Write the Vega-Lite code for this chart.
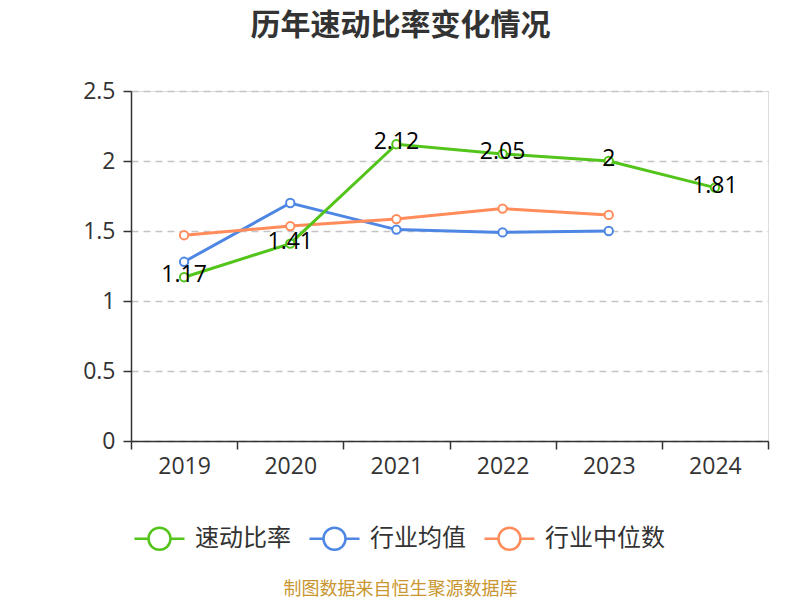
{
  "$schema": "https://vega.github.io/schema/vega-lite/v6.json",
  "width": 637,
  "height": 350,
  "autosize": {"type": "none"},
  "padding": {"left": 131, "top": 91, "right": 32, "bottom": 159},
  "background": "white",
  "title": {
    "text": "历年速动比率变化情况",
    "anchor": "middle",
    "dx": -49,
    "offset": 39,
    "fontSize": 30,
    "fontWeight": "bold",
    "color": "#333333",
    "font": "Noto Sans CJK SC"
  },
  "data": {
    "values": [
      {"year": "2019", "series": "速动比率", "value": 1.17},
      {"year": "2020", "series": "速动比率", "value": 1.41},
      {"year": "2021", "series": "速动比率", "value": 2.12},
      {"year": "2022", "series": "速动比率", "value": 2.05},
      {"year": "2023", "series": "速动比率", "value": 2.0},
      {"year": "2024", "series": "速动比率", "value": 1.81},
      {"year": "2019", "series": "行业均值", "value": 1.28},
      {"year": "2020", "series": "行业均值", "value": 1.70},
      {"year": "2021", "series": "行业均值", "value": 1.51},
      {"year": "2022", "series": "行业均值", "value": 1.49},
      {"year": "2023", "series": "行业均值", "value": 1.50},
      {"year": "2019", "series": "行业中位数", "value": 1.47},
      {"year": "2020", "series": "行业中位数", "value": 1.535},
      {"year": "2021", "series": "行业中位数", "value": 1.585},
      {"year": "2022", "series": "行业中位数", "value": 1.66},
      {"year": "2023", "series": "行业中位数", "value": 1.615}
    ]
  },
  "encoding": {
    "x": {
      "field": "year",
      "type": "ordinal",
      "bandPosition": 0.5,
      "scale": {"type": "band", "domain": ["2019", "2020", "2021", "2022", "2023", "2024"], "paddingInner": 0, "paddingOuter": 0},
      "axis": {
        "title": "制图数据来自恒生聚源数据库",
        "titleFont": "Noto Sans CJK SC",
        "titleFontSize": 18,
        "titleFontWeight": "normal",
        "titleColor": "#c9962f",
        "titleX": 269,
        "titleY": 148,
        "titleBaseline": "middle",
        "titleAlign": "center",
        "labelAngle": 0,
        "tickBand": "extent",
        "labelFont": "Open Sans",
        "labelFontSize": 23,
        "labelColor": "#333333",
        "labelPadding": 6,
        "tickSize": 8,
        "tickColor": "#333333",
        "tickWidth": 1.5,
        "domainColor": "#333333",
        "domainWidth": 1.5,
        "grid": false
      }
    },
    "y": {
      "field": "value",
      "type": "quantitative",
      "scale": {"domain": [0, 2.5], "nice": false, "zero": true},
      "axis": {
        "title": null,
        "values": [0, 0.5, 1, 1.5, 2, 2.5],
        "format": "~g",
        "labelFont": "Open Sans",
        "labelFontSize": 23,
        "labelColor": "#333333",
        "labelPadding": 8,
        "tickSize": 8,
        "tickColor": "#333333",
        "tickWidth": 1.5,
        "domainColor": "#333333",
        "domainWidth": 1.5,
        "grid": true,
        "gridColor": "#c4c4c4",
        "gridDash": [7, 5],
        "gridWidth": 1.5
      }
    },
    "color": {
      "field": "series",
      "type": "nominal",
      "scale": {
        "domain": ["速动比率", "行业均值", "行业中位数"],
        "range": ["#52c41a", "#4e86e4", "#ff8c5a"]
      },
      "legend": {
        "title": null,
        "orient": "none",
        "direction": "horizontal",
        "legendX": 2,
        "legendY": 421,
        "symbolType": "M-1,0L-0.44,0M0.44,0L1,0M-0.44,0A0.44,0.44,0,1,1,0.44,0A0.44,0.44,0,1,1,-0.44,0",
        "symbolSize": 2500,
        "symbolStrokeWidth": 2.5,
        "symbolFillColor": "white",
        "labelFont": "Noto Sans CJK SC",
        "labelFontSize": 24,
        "labelColor": "#333333",
        "labelOffset": 9,
        "columnPadding": 13,
        "padding": 0
      }
    }
  },
  "layer": [
    {
      "transform": [{"filter": "datum.series !== '速动比率'"}],
      "mark": {"type": "line", "strokeWidth": 3, "point": {"filled": false, "fill": "white", "size": 70, "strokeWidth": 2}}
    },
    {
      "transform": [{"filter": "datum.series === '速动比率'"}],
      "mark": {"type": "line", "strokeWidth": 3, "point": {"filled": false, "fill": "white", "size": 70, "strokeWidth": 2}}
    },
    {
      "transform": [{"filter": "datum.series === '速动比率'"}],
      "mark": {"type": "text", "font": "Open Sans", "fontSize": 23, "color": "#000000", "baseline": "middle", "dy": -2},
      "encoding": {
        "text": {"field": "value", "type": "quantitative", "format": "~g"},
        "color": {"value": "#000000"}
      }
    }
  ]
}
